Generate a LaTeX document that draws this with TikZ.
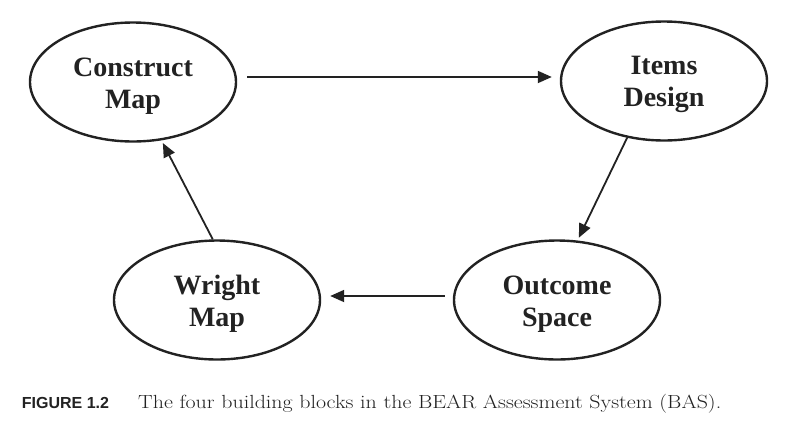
\documentclass[tikz,border=0pt]{standalone}
\usepackage{fontspec}
\usetikzlibrary{shapes.geometric,arrows.meta}
\newfontfamily\blockfont{Liberation Serif}
\newfontfamily\figfont{Liberation Sans}
\newfontfamily\capfont[FakeStretch=1.155]{Latin Modern Roman}
\definecolor{ink}{HTML}{222222}
\newcommand\liftline{\rule{0pt}{26pt}}
\begin{document}
\begin{tikzpicture}[x=1pt,y=-1pt,
  block/.style={ellipse,draw=ink,line width=2.4pt,minimum width=206pt,minimum height=119pt,inner sep=0pt,align=center,text=ink,font=\blockfont\bfseries\fontsize{28}{32}\selectfont},
  arr/.style={draw=ink,line width=1.8pt,-{Triangle[length=14pt,width=12pt]}},
  figlabel/.style={anchor=base west,inner sep=0pt,text=ink,font=\figfont\bfseries\fontsize{16}{16}\selectfont},
  captext/.style={anchor=base west,inner sep=0pt,text=ink,font=\capfont\fontsize{19}{19}\selectfont}]
\useasboundingbox (0,0) rectangle (800,429);
\fill[white] (0,0) rectangle (800,429);
\node[block] (cm) at (133,82) {\liftline Construct\\Map};
\node[block] (id) at (664,81) {\liftline Items\\Design};
\node[block] (os) at (557,300) {\liftline Outcome\\Space};
\node[block] (wm) at (217,300) {\liftline Wright\\Map};
\draw[arr,shorten <=10pt,shorten >=8pt] ([yshift=5pt]cm.east) -- ([yshift=5pt]cm.east -| id.west);
\draw[arr,shorten >=3pt] (id.237) -- (os.71);
\draw[arr,shorten <=8pt,shorten >=9pt] ([yshift=4pt]os.west) -- ([yshift=4pt]os.west -| wm.east);
\draw[arr,shorten >=3pt] (wm.94) -- (cm.296);
\node[figlabel] (fig) at (21.7,408) {FIGURE 1.2};
\node[captext] (cap) at (138,408) {The four building blocks in the BEAR Assessment System (BAS).};
\end{tikzpicture}
\end{document}
